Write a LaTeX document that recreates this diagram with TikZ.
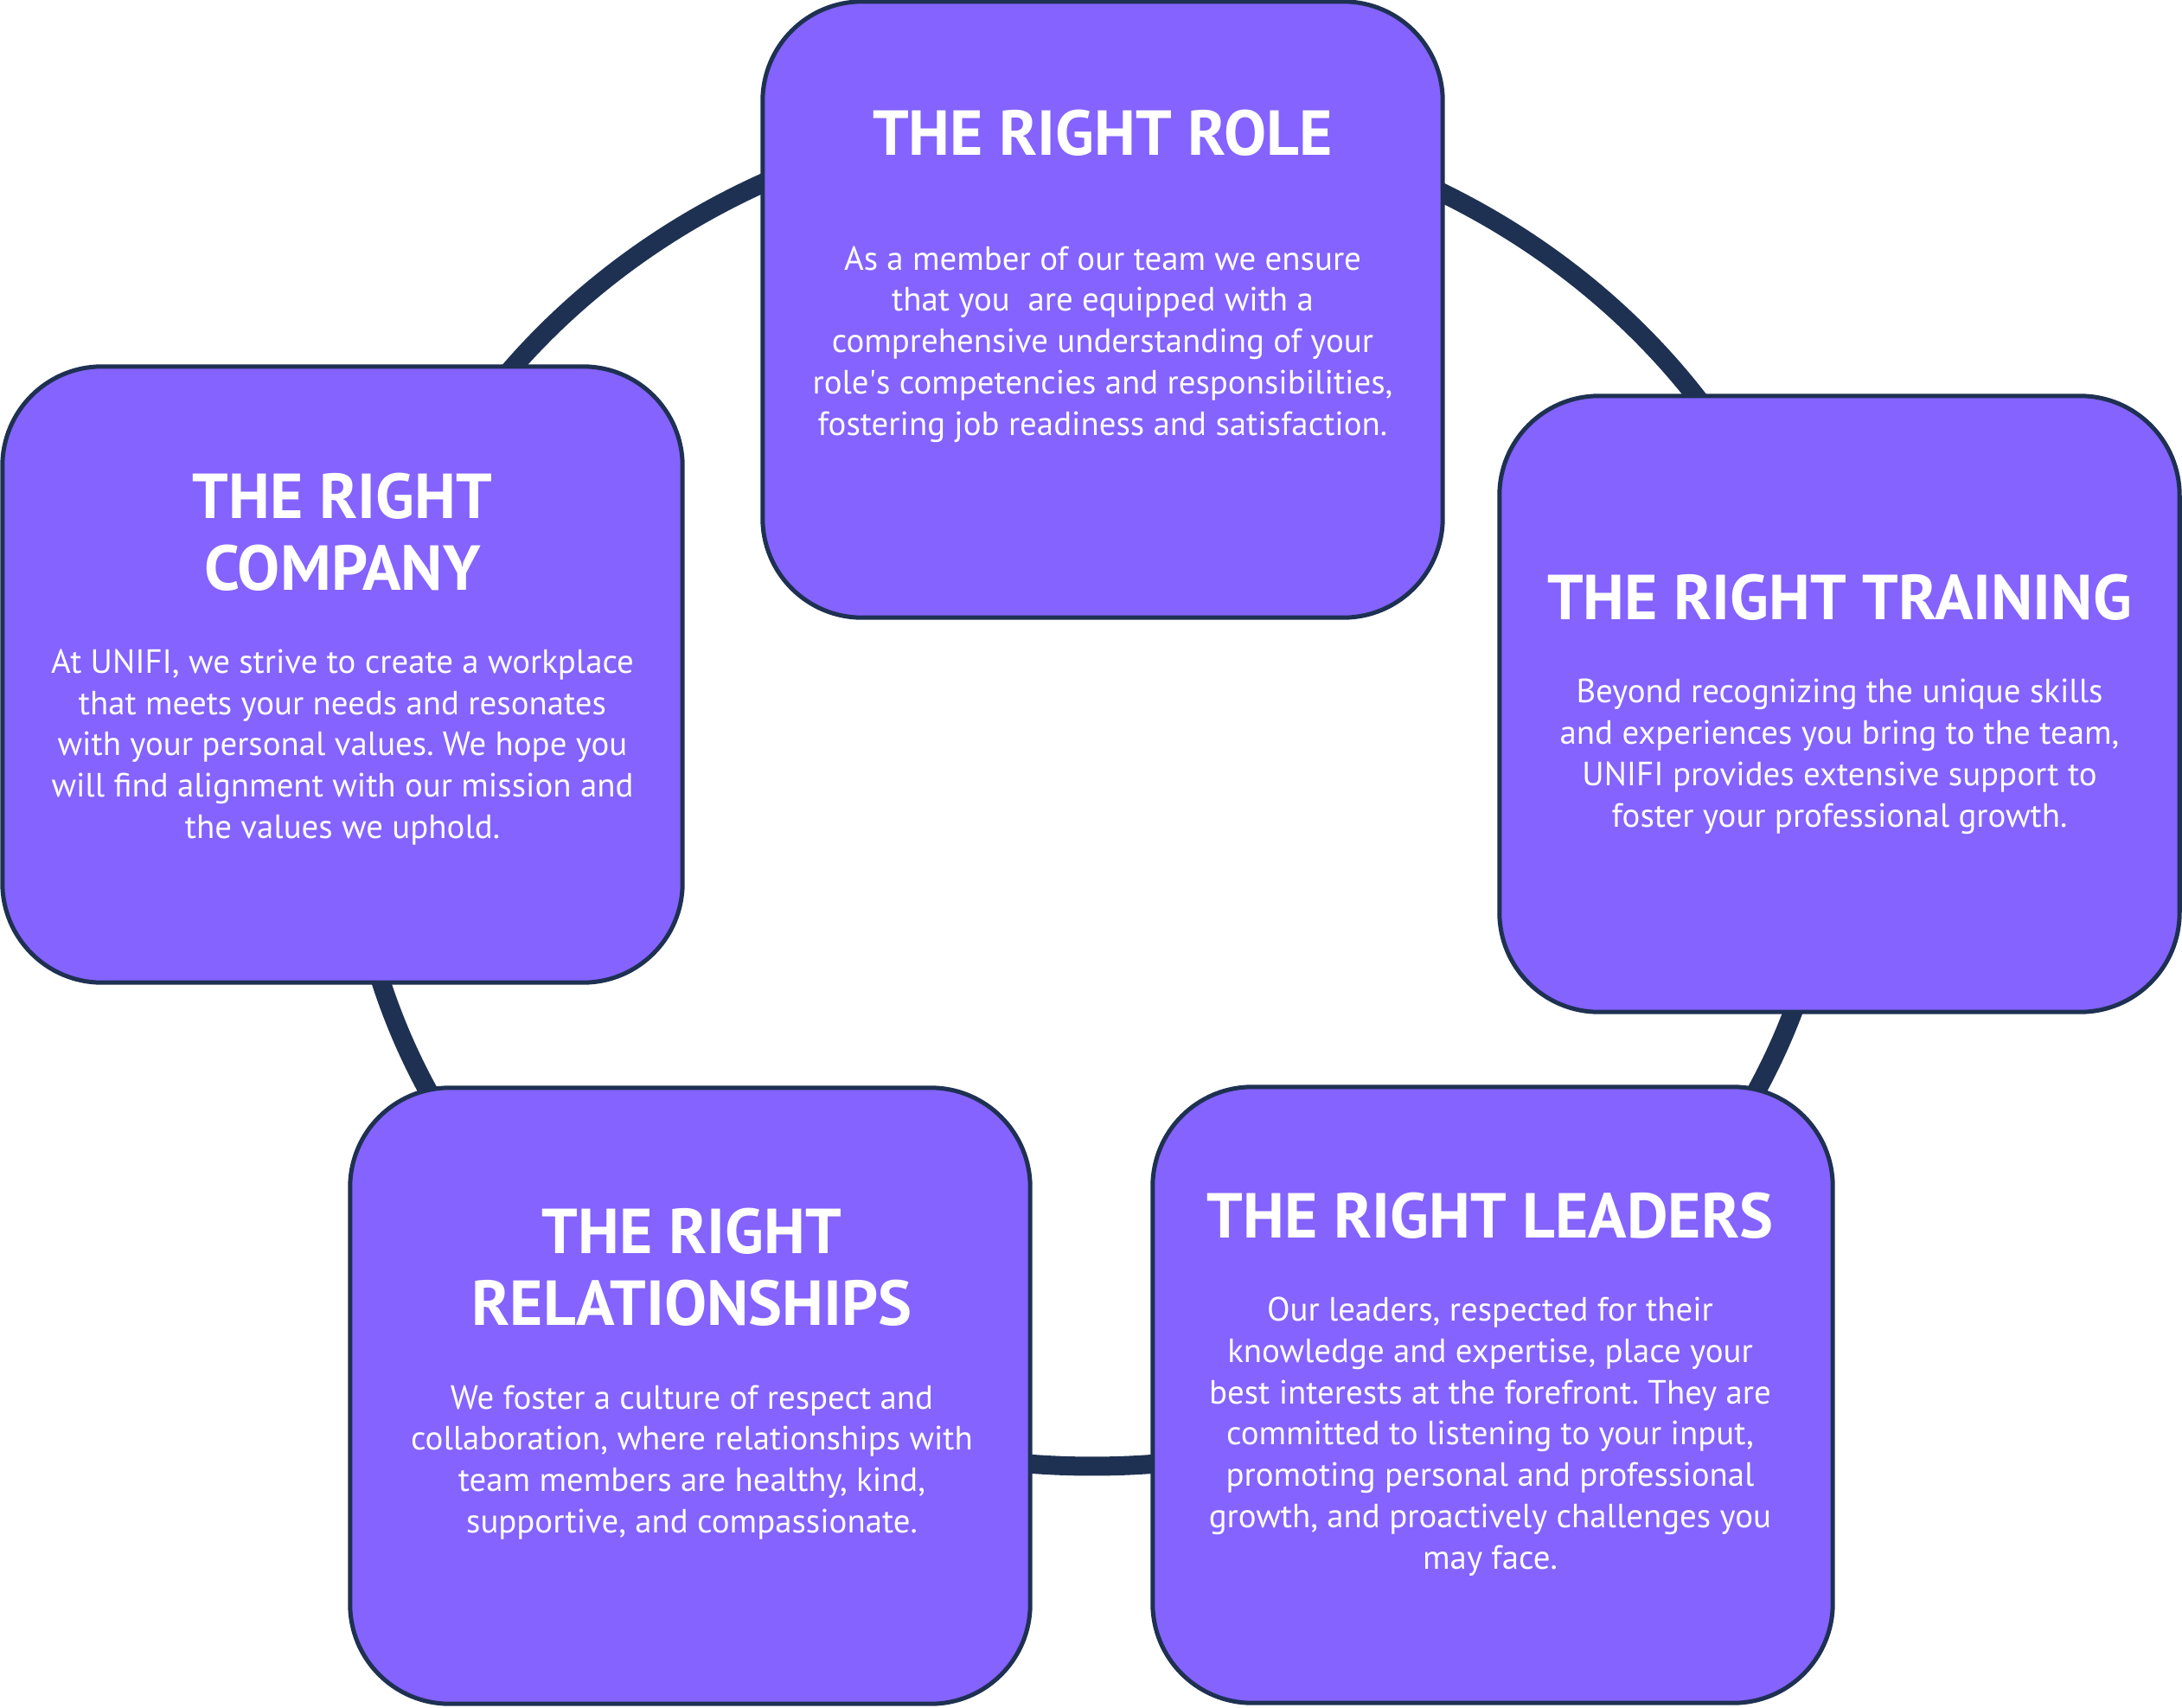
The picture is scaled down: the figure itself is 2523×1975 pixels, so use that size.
\documentclass[tikz,border=0pt]{standalone}
\usepackage{fontspec}
\setmainfont{PT Sans}
\frenchspacing
\definecolor{cardfill}{HTML}{8463FF}
\definecolor{navy}{HTML}{1E3152}
\begin{document}
\begin{tikzpicture}[x=0.01cm,y=-0.01cm,
    card/.style={draw=navy,fill=cardfill,line width=0.05cm,rounded corners=1.15cm,
      minimum width=7.86cm,minimum height=7.12cm},
    ttl/.style={text=white,font=\bfseries\fontsize{20.9}{23.6}\selectfont,align=center},
    body/.style={text=white,font=\fontsize{11.05}{13.6}\selectfont,align=center}]
    \useasboundingbox (0,0) rectangle (2523,1975);
    \draw[navy,line width=0.22cm] (1263,913) ellipse [x radius=8.57cm,y radius=7.82cm];
    \node[card] (role) at (1275,358) {};
    \node[card] (company) at (396,780) {};
    \node[card] (training) at (2127,814) {};
    \node[card] (relations) at (798,1614) {};
    \node[card] (leaders) at (1726,1613) {};
    \node[ttl] (roleT) at (1275,154) {THE RIGHT ROLE};
    \node[body] (roleB) at (1275,398) {As a member of our team we ensure\\that you\ \ are equipped with a\\comprehensive understanding of your\\role\textquotesingle s competencies and responsibilities,\\fostering job readiness and satisfaction.};
    \node[ttl] (companyT) at (396,615) {THE RIGHT\\COMPANY};
    \node[body] (companyB) at (396,864) {At UNIFI, we strive to create a workplace\\that meets your needs and resonates\\with your personal values. We hope you\\will find alignment with our mission and\\the values we uphold.};
    \node[ttl] (trainingT) at (2127,691) {THE RIGHT TRAINING};
    \node[body] (trainingB) at (2127,875) {Beyond recognizing the unique skills\\and experiences you bring to the team,\\UNIFI provides extensive support to\\foster your professional growth.};
    \node[ttl] (relationsT) at (800,1465) {THE RIGHT\\RELATIONSHIPS};
    \node[body] (relationsB) at (800,1691) {We foster a culture of respect and\\collaboration, where relationships with\\team members are healthy, kind,\\supportive, and compassionate.};
    \node[ttl] (leadersT) at (1723,1406) {THE RIGHT LEADERS};
    \node[body] (leadersB) at (1723,1661) {Our leaders, respected for their\\knowledge and expertise, place your\\best interests at the forefront. They are\\committed to listening to your input,\\promoting personal and professional\\growth, and proactively challenges you\\may face.};
\end{tikzpicture}
\end{document}
